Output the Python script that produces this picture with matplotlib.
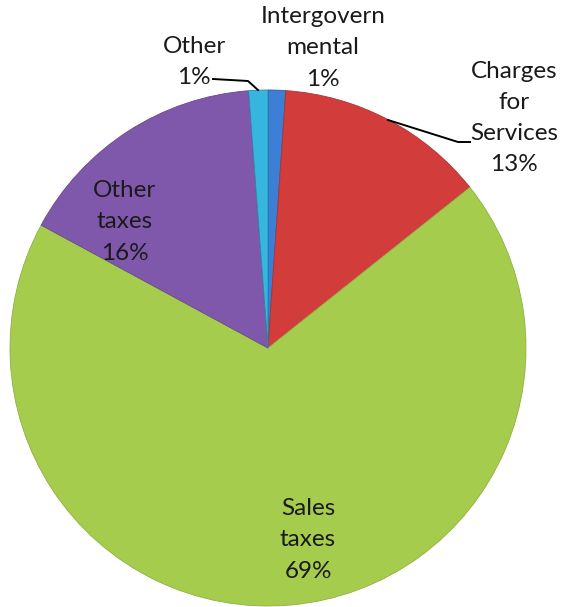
import matplotlib.pyplot as plt

# slices, clockwise from the top
categories = ["Intergovernmental", "Charges for Services", "Sales taxes", "Other taxes", "Other"]
shares = [1.1, 13.2, 68.6, 15.9, 1.2]
label_texts = ["Intergovern\nmental\n1%", "Charges\nfor\nServices\n13%", "Sales\ntaxes\n69%",
               "Other\ntaxes\n16%", "Other\n1%"]

colors = ["#3b7fd6", "#d23c3a", "#a6cc4e", "#7f58ab", "#36b6de"]
edges = ["#2a5e9e", "#b03230", "#8fb043", "#6a4890", "#2788a6"]

W, H = 563, 607
fig = plt.figure(figsize=(W / 100, H / 100), dpi=100)
ax = fig.add_axes([0, 0, 1, 1])

cx, cy, r = 268, H - 348, 258
wedges, _ = ax.pie(shares, colors=colors, startangle=90, counterclock=False,
                   center=(cx, cy), radius=r,
                   wedgeprops=dict(linewidth=0.6))
for w, e in zip(wedges, edges):
    w.set_edgecolor(e)

ax.set_xlim(0, W)
ax.set_ylim(0, H)
ax.axis("off")

# label placement in pixel coords (x, y from top)
label_pos = [(323, 48), (514, 118), (308, 540), (125, 222), (194, 62)]
for txt, (x, y) in zip(label_texts, label_pos):
    ax.text(x, H - y, txt, ha="center", va="center", fontsize=17.5,
            family="Lato", linespacing=1.6, color="#1a1a1a")

# leader lines
ax.plot([213, 248, 258], [H - 79, H - 81, H - 90], color="black", lw=1.4)
ax.plot([388, 458, 470], [H - 120, H - 142, H - 142], color="black", lw=1.4)

fig.savefig("out.png", dpi=100)
